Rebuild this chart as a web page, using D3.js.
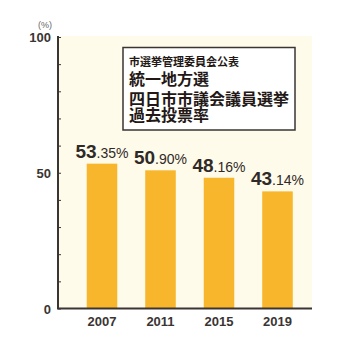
<!DOCTYPE html>
<html><head><meta charset="utf-8">
<script src="https://cdn.jsdelivr.net/npm/d3@7"></script>
<style>html,body{margin:0;padding:0;background:#fff;}</style>
</head><body>
<script>
const years = ["2007","2011","2015","2019"];
const turnout = [53.35, 50.90, 48.16, 43.14];
const yTickLabels = [0, 50, 100];
const titleLines = ["市選挙管理委員会公表","統一地方選","四日市市議会議員選挙","過去投票率"];
const unitLabel = "(%)";

const W = 360, H = 360;
const svg = d3.select("body").append("svg").attr("width", W).attr("height", H);

const x0 = 58, x1 = 312, yTop = 37, yBot = 308.5;
const y = d3.scaleLinear().domain([0,100]).range([yBot, yTop]);
const x = d3.scaleBand().domain(years).range([72.75, 306.75]).paddingInner(0.478).paddingOuter(0.239);

// background
svg.append("rect").attr("x", x0).attr("y", yTop-1).attr("width", x1-x0).attr("height", yBot-yTop+1).attr("fill", "#fffbea");

// bars
svg.selectAll("rect.bar").data(years).enter().append("rect").attr("class","bar")
  .attr("x", d => x(d)).attr("width", x.bandwidth())
  .attr("y", (d,i) => y(turnout[i])).attr("height", (d,i) => yBot - y(turnout[i]))
  .attr("fill", "#f8b62d");

// y axis
const yAxis = d3.axisRight(y).tickValues(d3.range(0,101,10)).tickSize(3).tickFormat("");
const gy = svg.append("g").attr("transform", `translate(${x0},0)`).call(yAxis);
gy.select(".domain").remove();
gy.selectAll("line").attr("stroke","#3a3533").attr("stroke-width",1);
svg.append("line").attr("x1",x0).attr("x2",x0).attr("y1",yTop-1).attr("y2",yBot).attr("stroke","#3a3533").attr("stroke-width",2);
svg.append("line").attr("x1",x0-1).attr("x2",x1).attr("y1",yBot).attr("y2",yBot).attr("stroke","#3a3533").attr("stroke-width",2);

svg.selectAll("text.ylab").data(yTickLabels).enter().append("text").attr("class","ylab")
  .attr("x", 51).attr("y", d => y(d)+5).attr("text-anchor","end")
  .attr("font-family","Liberation Sans, Arial, sans-serif").attr("font-weight","bold").attr("font-size",13)
  .attr("fill","#3a3533").text(d => d);

svg.append("text").attr("x", 45).attr("y", 28).attr("text-anchor","middle")
  .attr("font-family","Liberation Sans, Arial, sans-serif").attr("font-size",9).attr("fill","#666")
  .text(unitLabel);

// x labels
svg.selectAll("text.xlab").data(years).enter().append("text").attr("class","xlab")
  .attr("x", d => x(d)+x.bandwidth()/2).attr("y", 326).attr("text-anchor","middle")
  .attr("font-family","Liberation Sans, Arial, sans-serif").attr("font-weight","bold").attr("font-size",13)
  .attr("fill","#3a3533").text(d => d);

// value labels
years.forEach((yr,i) => {
  const v = turnout[i].toFixed(2);
  const [ip, fp] = v.split(".");
  const t = svg.append("text").attr("x", x(yr)+x.bandwidth()/2).attr("y", y(turnout[i]) - 6)
    .attr("text-anchor","middle").attr("font-family","Liberation Sans, Arial, sans-serif")
    .attr("font-weight","bold").attr("fill","#2f2a28");
  t.append("tspan").attr("font-size",19).text(ip);
  t.append("tspan").attr("font-size",14).attr("font-weight","normal").text("." + fp + "%");
});

// title box
svg.append("rect").attr("x",123).attr("y",47.5).attr("width",172).attr("height",82.5)
  .attr("fill","#fff").attr("stroke","#3a3533").attr("stroke-width",1.5);
const tb = [66, 85, 105, 121];
const tsz = [11, 16, 16, 16];
const tt = svg.append("text").attr("font-family","Noto Sans CJK JP, sans-serif").attr("font-weight","bold")
  .attr("fill","#231815");
titleLines.forEach((s,i) => {
  tt.append("tspan").attr("x",129).attr("y",tb[i]).attr("font-size",tsz[i]).text(s);
});
</script>
</body></html>
